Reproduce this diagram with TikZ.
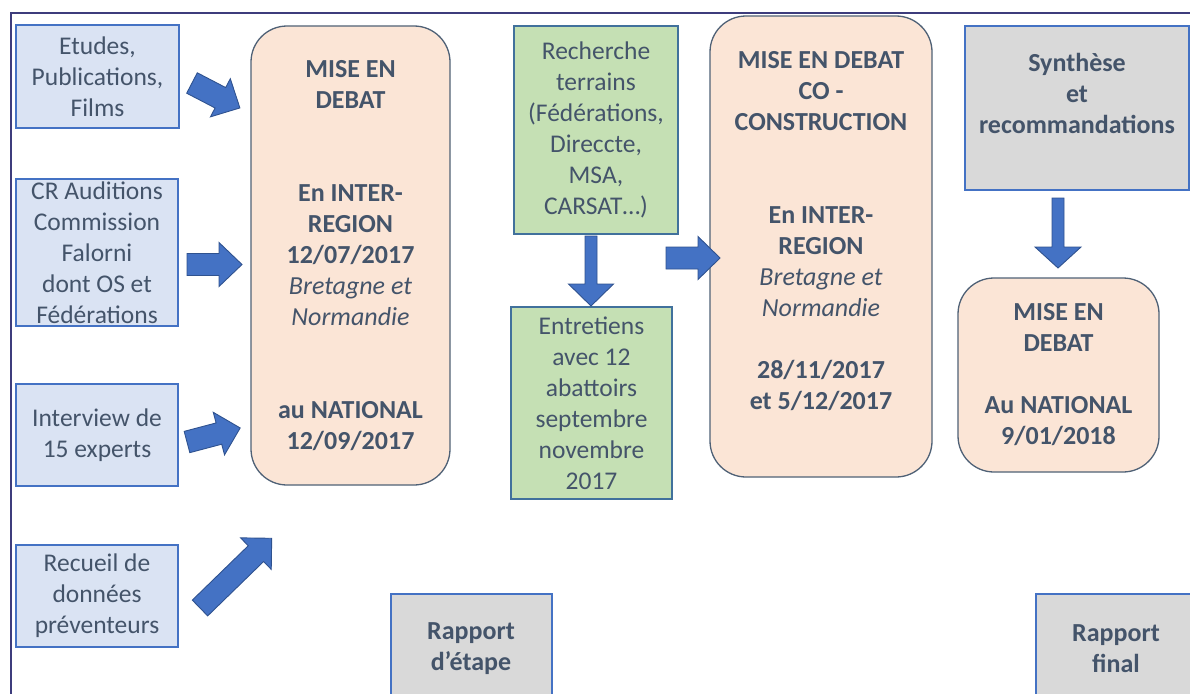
\documentclass[tikz,border=0pt]{standalone}
\usepackage{fontspec}
\setmainfont{Carlito}
\definecolor{txt}{HTML}{44546A}
\definecolor{arrfill}{HTML}{4472C4}
\definecolor{arrline}{HTML}{2F528F}
\definecolor{bluefill}{HTML}{DAE3F3}
\definecolor{blueline}{HTML}{4472C4}
\definecolor{peach}{HTML}{FBE5D6}
\definecolor{peachline}{HTML}{4F6176}
\definecolor{greenfill}{HTML}{C5E0B4}
\definecolor{greenline}{HTML}{41719C}
\definecolor{greyfill}{HTML}{D9D9D9}
\definecolor{framecol}{HTML}{3D3C7C}
\newcommand\blockarr[7]{%
  \begin{scope}[shift={(#1,#2)},rotate=#3]
    \filldraw[arrowst] (0,-#5) -- ({#4-#7},-#5) -- ({#4-#7},-#6) -- (#4,0)
      -- ({#4-#7},#6) -- ({#4-#7},#5) -- (0,#5) -- cycle;
  \end{scope}}
\tikzset{
  arrowst/.style={fill=arrfill, draw=arrline, line width=0.9pt, line join=miter},
  bluebox/.style={rectangle, fill=bluefill, draw=blueline, line width=1.3pt, align=center, inner sep=0pt},
  debatbox/.style={rectangle, rounded corners=36pt, fill=peach, draw=peachline, line width=1.3pt, align=center, inner sep=0pt, font=\fontsize{26}{31}\selectfont\bfseries},
  greenbox/.style={rectangle, fill=greenfill, draw=greenline, line width=1.3pt, align=center, inner sep=0pt},
  greybox/.style={rectangle, fill=greyfill, draw=blueline, line width=1.3pt, align=center, inner sep=0pt},
  boldtext/.style={align=center, inner sep=0pt, font=\fontsize{26}{31}\selectfont\bfseries},
  framest/.style={draw=framecol, line width=2pt}
}
\begin{document}
\begin{tikzpicture}[x=1pt,y=-1pt, font=\fontsize{25.5}{31}\selectfont, text=txt]
\useasboundingbox (0,0) rectangle (1190,693);
\begin{scope}
\clip (0,0) rectangle (1190,693);
\draw[framest] (11,720) -- (11,13) -- (1220,13);

% left column
\node[bluebox, minimum width=163pt, minimum height=103pt] (etudes) at (97.5,76.5) {Etudes,\\Publications,\\Films};
\node[bluebox, minimum width=162pt, minimum height=147pt] (cr) at (97,252.5) {CR Auditions\\Commission\\Falorni\\dont OS et\\Fédérations};
\node[bluebox, minimum width=162pt, minimum height=102pt] (interview) at (97,435) {Interview de\\15 experts};
\node[bluebox, minimum width=162pt, minimum height=102pt] (recueil) at (97,596) {Recueil de\\données\\préventeurs};

% first debate
\node[debatbox, minimum width=199pt, minimum height=459pt] (debat1) at (350.5,255.5)
  {MISE EN\\DEBAT\\[62pt]En INTER-\\REGION\\12/07/2017\\\textnormal{\itshape Bretagne et}\\\textnormal{\itshape Normandie}\\[62pt]au NATIONAL\\12/09/2017};

% green boxes
\node[greenbox, minimum width=164pt, minimum height=208pt] (recherche) at (596,130) {Recherche\\terrains\\(Fédérations,\\Direccte,\\MSA,\\CARSAT…)};
\node[greenbox, minimum width=161pt, minimum height=192pt] (entretiens) at (591.5,403) {Entretiens\\avec 12\\abattoirs\\septembre\\novembre\\2017};

% second debate
\node[debatbox, minimum width=222pt, minimum height=461pt] (debat2) at (821,246.5) {};
\node[boldtext] (debat2txt) at (821,231)
  {MISE EN DEBAT\\CO -\\CONSTRUCTION\\[62pt]En INTER-\\REGION\\\textnormal{\itshape Bretagne et}\\\textnormal{\itshape Normandie}\\[31pt]28/11/2017\\et 5/12/2017};

% synthesis
\node[greybox, minimum width=224pt, minimum height=164pt] (synth) at (1077,108) {};
\node[boldtext] (synthtxt) at (1077,93) {Synthèse\\et\\recommandations};

% third debate
\node[debatbox, minimum width=201pt, minimum height=194pt] (debat3) at (1058.5,375)
  {MISE EN\\DEBAT\\[31pt]Au NATIONAL\\9/01/2018};

% reports
\node[greybox, minimum width=161pt, minimum height=126pt] (rap1) at (471.5,657) {};
\node[boldtext] (rap1txt) at (471,648.5) {Rapport\\d’étape};
\node[greybox, minimum width=164pt, minimum height=126pt] (rap2) at (1118,657) {};
\node[boldtext] (rap2txt) at (1116,648.5) {Rapport\\final};

% block arrows
\blockarr{192}{83}{-27.5}{54}{11.5}{21.5}{22}
\blockarr{187}{264.5}{0}{55}{11}{22}{23}
\blockarr{187}{442}{14.8}{55}{11}{22}{22}
\blockarr{200}{608}{44.2}{100}{11}{22}{22}
\blockarr{591}{236}{-90}{70}{6}{22.5}{22}
\blockarr{666}{258}{0}{54}{11}{21.5}{22}
\blockarr{1058}{198}{-90}{70}{6}{23}{21}
\end{scope}
\end{tikzpicture}
\end{document}
